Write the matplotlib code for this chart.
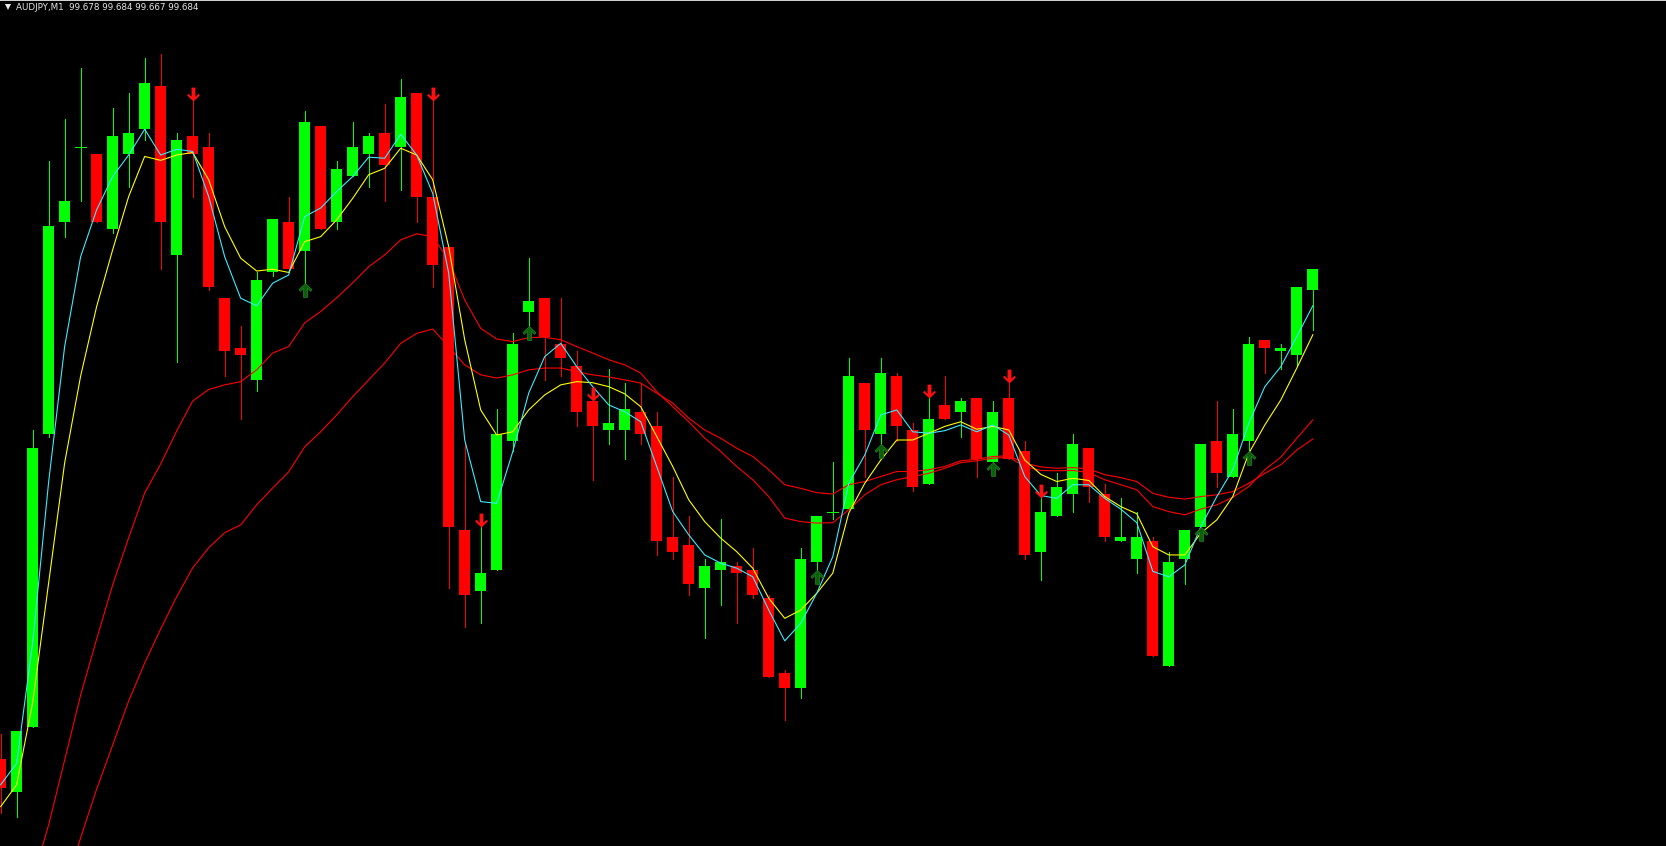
import matplotlib
matplotlib.use("Agg")
import matplotlib.pyplot as plt
import numpy as np
from matplotlib.path import Path
from matplotlib.lines import Line2D

# AUDJPY M1 bars, left to right
opens = [99.547, 99.538, 99.556, 99.638, 99.697, 99.718, 99.716, 99.695, 99.716, 99.723,
         99.735, 99.688, 99.721, 99.718, 99.676, 99.662, 99.653, 99.683, 99.697, 99.689,
         99.724, 99.697, 99.710, 99.716, 99.722, 99.718, 99.733, 99.704, 99.690, 99.611,
         99.594, 99.600, 99.636, 99.672, 99.676, 99.663, 99.657, 99.647, 99.639, 99.639,
         99.644, 99.640, 99.609, 99.607, 99.595, 99.600, 99.601, 99.600, 99.592, 99.571,
         99.567, 99.602, 99.616, 99.617, 99.652, 99.638, 99.654, 99.639, 99.624, 99.646,
         99.644, 99.648, 99.630, 99.648, 99.633, 99.605, 99.615, 99.621, 99.634, 99.621,
         99.608, 99.603, 99.608, 99.573, 99.603, 99.612, 99.636, 99.626, 99.636, 99.664,
         99.661, 99.660, 99.678]
highs = [99.554, 99.555, 99.639, 99.714, 99.726, 99.740, 99.716, 99.729, 99.733, 99.743,
         99.744, 99.722, 99.731, 99.722, 99.676, 99.668, 99.683, 99.698, 99.704, 99.728,
         99.724, 99.714, 99.725, 99.722, 99.730, 99.737, 99.733, 99.731, 99.690, 99.635,
         99.612, 99.645, 99.666, 99.687, 99.676, 99.676, 99.661, 99.647, 99.656, 99.652,
         99.652, 99.644, 99.626, 99.615, 99.603, 99.614, 99.602, 99.606, 99.593, 99.572,
         99.606, 99.615, 99.630, 99.659, 99.652, 99.659, 99.655, 99.641, 99.648, 99.654,
         99.648, 99.648, 99.647, 99.652, 99.636, 99.620, 99.627, 99.638, 99.634, 99.624,
         99.620, 99.616, 99.609, 99.605, 99.611, 99.635, 99.647, 99.645, 99.665, 99.664,
         99.663, 99.679, 99.684]
lows = [99.532, 99.531, 99.556, 99.637, 99.693, 99.703, 99.697, 99.694, 99.707, 99.720,
        99.684, 99.658, 99.704, 99.678, 99.654, 99.642, 99.650, 99.682, 99.684, 99.680,
        99.695, 99.695, 99.710, 99.707, 99.703, 99.706, 99.697, 99.679, 99.595, 99.584,
        99.585, 99.600, 99.633, 99.668, 99.653, 99.654, 99.640, 99.625, 99.635, 99.631,
        99.635, 99.604, 99.603, 99.593, 99.581, 99.590, 99.585, 99.592, 99.570, 99.558,
        99.564, 99.600, 99.614, 99.617, 99.626, 99.635, 99.636, 99.622, 99.624, 99.642,
        99.637, 99.626, 99.630, 99.631, 99.603, 99.597, 99.615, 99.616, 99.619, 99.608,
        99.608, 99.599, 99.576, 99.573, 99.596, 99.612, 99.623, 99.626, 99.633, 99.655,
        99.656, 99.657, 99.667]
closes = [99.539, 99.555, 99.634, 99.696, 99.703, 99.718, 99.697, 99.721, 99.722, 99.736,
          99.697, 99.720, 99.716, 99.679, 99.661, 99.660, 99.681, 99.698, 99.684, 99.725,
          99.695, 99.712, 99.718, 99.721, 99.713, 99.732, 99.704, 99.685, 99.612, 99.593,
          99.599, 99.638, 99.663, 99.675, 99.665, 99.659, 99.644, 99.640, 99.641, 99.645,
          99.638, 99.608, 99.605, 99.596, 99.601, 99.602, 99.599, 99.593, 99.570, 99.567,
          99.603, 99.615, 99.616, 99.654, 99.639, 99.655, 99.640, 99.623, 99.642, 99.642,
          99.647, 99.631, 99.644, 99.631, 99.604, 99.616, 99.623, 99.635, 99.623, 99.609,
          99.609, 99.609, 99.576, 99.602, 99.611, 99.635, 99.627, 99.638, 99.663, 99.662,
          99.662, 99.679, 99.684]

# moving averages (one value per bar)
ma_cyan = [99.5399, 99.5459, 99.5795, 99.6245, 99.6623, 99.6874, 99.7005, 99.7098, 99.7158, 99.7230,
           99.7158, 99.7174, 99.7168, 99.7042, 99.6874, 99.6758, 99.6737, 99.6800, 99.6823, 99.6986,
           99.7010, 99.7056, 99.7098, 99.7152, 99.7149, 99.7216, 99.7158, 99.7051, 99.6828, 99.6362,
           99.6190, 99.6185, 99.6329, 99.6493, 99.6595, 99.6632, 99.6567, 99.6511, 99.6460, 99.6441,
           99.6413, 99.6288, 99.6162, 99.6097, 99.6041, 99.6018, 99.6004, 99.5980, 99.5887, 99.5801,
           99.5850, 99.5934, 99.6036, 99.6241, 99.6320, 99.6432, 99.6446, 99.6385, 99.6381, 99.6388,
           99.6404, 99.6385, 99.6404, 99.6376, 99.6260, 99.6207, 99.6199, 99.6237, 99.6237, 99.6199,
           99.6169, 99.6131, 99.5995, 99.5980, 99.6013, 99.6120, 99.6204, 99.6279, 99.6409, 99.6511,
           99.6567, 99.6651, 99.6737]
ma_yellow = [99.5338, 99.5399, 99.5628, 99.5963, 99.6298, 99.6541, 99.6735, 99.6893, 99.7042, 99.7154,
             99.7143, 99.7158, 99.7165, 99.7089, 99.6958, 99.6870, 99.6834, 99.6839, 99.6830, 99.6916,
             99.6930, 99.6977, 99.7037, 99.7103, 99.7121, 99.7177, 99.7158, 99.7089, 99.6902, 99.6642,
             99.6446, 99.6376, 99.6385, 99.6446, 99.6488, 99.6516, 99.6525, 99.6522, 99.6511, 99.6491,
             99.6455, 99.6372, 99.6288, 99.6195, 99.6134, 99.6088, 99.6050, 99.6004, 99.5920, 99.5864,
             99.5887, 99.5934, 99.5990, 99.6158, 99.6241, 99.6306, 99.6362, 99.6362, 99.6381, 99.6400,
             99.6413, 99.6392, 99.6400, 99.6390, 99.6306, 99.6266, 99.6246, 99.6255, 99.6249, 99.6204,
             99.6176, 99.6156, 99.6064, 99.6041, 99.6041, 99.6102, 99.6139, 99.6204, 99.6325, 99.6404,
             99.6474, 99.6563, 99.6656]
ma_red_fast = [np.nan, np.nan,
               99.5133, 99.5287, 99.5468, 99.5650, 99.5806, 99.5957, 99.6089, 99.6214,
               99.6295, 99.6387, 99.6471, 99.6503, 99.6516, 99.6525, 99.6558, 99.6605, 99.6623, 99.6689,
               99.6721, 99.6759, 99.6801, 99.6846, 99.6879, 99.6921, 99.6938, 99.6930, 99.6865, 99.6753,
               99.6674, 99.6644, 99.6637, 99.6648, 99.6649, 99.6642, 99.6623, 99.6605, 99.6586, 99.6572,
               99.6549, 99.6497, 99.6455, 99.6413, 99.6367, 99.6330, 99.6288, 99.6251, 99.6204, 99.6144,
               99.6134, 99.6130, 99.6131, 99.6167, 99.6209, 99.6237, 99.6251, 99.6260, 99.6269, 99.6283,
               99.6299, 99.6304, 99.6311, 99.6314, 99.6288, 99.6277, 99.6276, 99.6277, 99.6271, 99.6251,
               99.6237, 99.6223, 99.6176, 99.6162, 99.6153, 99.6169, 99.6181, 99.6202, 99.6232, 99.6279,
               99.6314, 99.6367, 99.6418]
ma_red_slow = [np.nan, np.nan, np.nan, np.nan,
               99.5105, 99.5251, 99.5387, 99.5510, 99.5633, 99.5739,
               99.5834, 99.5924, 99.6005, 99.6061, 99.6103, 99.6125, 99.6181, 99.6228, 99.6273, 99.6343,
               99.6385, 99.6432, 99.6483, 99.6530, 99.6577, 99.6632, 99.6660, 99.6672, 99.6623, 99.6572,
               99.6544, 99.6535, 99.6544, 99.6558, 99.6563, 99.6563, 99.6553, 99.6544, 99.6538, 99.6530,
               99.6521, 99.6493, 99.6465, 99.6423, 99.6390, 99.6367, 99.6339, 99.6316, 99.6279, 99.6237,
               99.6227, 99.6215, 99.6211, 99.6237, 99.6246, 99.6260, 99.6274, 99.6274, 99.6279, 99.6288,
               99.6304, 99.6308, 99.6316, 99.6318, 99.6297, 99.6287, 99.6283, 99.6285, 99.6281, 99.6265,
               99.6257, 99.6246, 99.6213, 99.6202, 99.6197, 99.6204, 99.6209, 99.6218, 99.6241, 99.6269,
               99.6293, 99.6334, 99.6365]

# signal arrows (bar index)
sell_bars = [12, 27, 30, 37, 58, 63, 65]
buy_bars = [19, 33, 51, 55, 62, 75, 78]

header = "AUDJPY,M1  99.678 99.684 99.667 99.684"

o = np.array(opens)
h = np.array(highs)
l = np.array(lows)
c = np.array(closes)
x = np.arange(len(o))

W, H = 1666, 846
fig = plt.figure(figsize=(W / 100, H / 100), dpi=100, facecolor="black")
ax = fig.add_axes([0, 0, 1, 1])
ax.set_facecolor("black")
ax.axis("off")
ax.set_xlim(-0.04, 104.07)
ax.set_ylim(99.5228, 99.7591)

px = 0.72  # one pixel in points
bull = c >= o
cols = np.where(bull, "#00ff00", "#ff0000")

# wicks
ax.vlines(x, l, h, colors=cols, linewidth=px, antialiased=False, zorder=2)

# bodies
body_w = 0.69
lo = np.minimum(o, c)
hgt = np.abs(c - o)
solid = hgt > 0
ax.bar(x[solid], hgt[solid], bottom=lo[solid], width=body_w, color=cols[solid],
       linewidth=0, antialiased=False, zorder=3)
doji = ~solid
ax.hlines(o[doji], x[doji] - body_w / 2, x[doji] + body_w / 2, colors=cols[doji],
          linewidth=px, antialiased=False, zorder=3)

# moving averages
ma_lw = 0.8
ax.plot(x, ma_red_slow, color="#ff0000", lw=ma_lw, zorder=4)
ax.plot(x, ma_red_fast, color="#ff0000", lw=ma_lw, zorder=4)
ax.plot(x, ma_yellow, color="#ffff00", lw=ma_lw, zorder=5)
ax.plot(x, ma_cyan, color="#3ceaff", lw=ma_lw, zorder=6)

# arrow markers: tip at the origin
down_verts = [(0, 0), (-0.46, 0.44), (-0.38, 0.56), (-0.14, 0.34), (-0.14, 1.0),
              (0.14, 1.0), (0.14, 0.34), (0.38, 0.56), (0.46, 0.44), (0, 0)]
down_arrow = Path(down_verts, closed=True)
up_arrow = Path([(vx, -vy) for vx, vy in down_verts], closed=True)

ax.plot(x[sell_bars], h[sell_bars], linestyle="none", marker=down_arrow, markersize=20,
        color="#ff1010", markeredgewidth=0, zorder=7)
ax.plot(x[buy_bars], l[buy_bars], linestyle="none", marker=up_arrow, markersize=20,
        color="#0b600b", markeredgecolor="#1f7a1f", markeredgewidth=0.6, zorder=7)

# header line
fig.add_artist(Line2D([0, 1], [1 - 0.5 / H, 1 - 0.5 / H], transform=fig.transFigure,
                      color="#d0d0d0", lw=px))
fig.add_artist(Line2D([7.5 / W], [1 - 7.5 / H], transform=fig.transFigure, marker="v",
                      markersize=4.5, color="#e8e8e8", markeredgewidth=0))
fig.text(16 / W, 1 - 7.5 / H, header, color="#e6e6e6", fontsize=6.3,
         family="DejaVu Sans", ha="left", va="center")

fig.savefig("out.png", dpi=100, facecolor="black")
